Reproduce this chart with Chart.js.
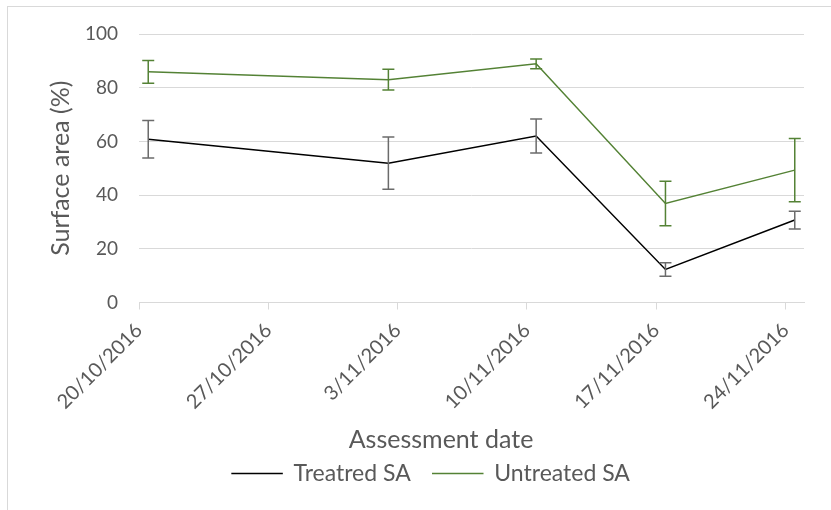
<!DOCTYPE html>
<html>
<head>
<meta charset="utf-8">
<title>Surface area</title>
<script src="https://cdn.jsdelivr.net/npm/chart.js@4.4.1/dist/chart.umd.min.js"></script>
<style>
    html, body { margin: 0; padding: 0; background: #fff; overflow: hidden; }
    #frame { position: absolute; left: 7px; top: 6px; width: 900px; height: 600px; border: 1px solid #d9d9d9; }
    #surfaceChart { position: absolute; left: 0; top: 0; }
</style>
</head>
<body>
<div id="frame"></div>
<canvas id="surfaceChart" width="831" height="510"></canvas>
<script>
// Datos
const assessmentDates = ['20/10/2016', '2/11/2016', '10/11/2016', '17/11/2016', '24/11/2016'];
const treatedSA = [60.8, 51.9, 62.0, 12.3, 30.7];
const treatedErr = [7.0, 9.7, 6.3, 2.5, 3.3];
const untreatedSA = [85.9, 83.0, 88.9, 36.9, 49.3];
const untreatedErr = [4.2, 3.9, 1.8, 8.3, 11.8];
const tickLabels = ['20/10/2016', '27/10/2016', '3/11/2016', '10/11/2016', '17/11/2016', '24/11/2016'];

const greyText = '#595959';
const gridGrey = '#d9d9d9';
const fontFamily = 'Lato, "Open Sans", sans-serif';

// días desde la primera fecha del eje
function dayOf(label) {
    const [d, m, y] = label.split('/').map(Number);
    const [d0, m0, y0] = tickLabels[0].split('/').map(Number);
    return (Date.UTC(y, m - 1, d) - Date.UTC(y0, m0 - 1, d0)) / 86400000;
}

// Excel coloca los puntos a mitad del día
function toPoints(values) {
    return values.map((v, i) => ({ x: dayOf(assessmentDates[i]) + 0.5, y: v }));
}

const tickDays = tickLabels.map(dayOf);
const errorSets = [treatedErr, untreatedErr];
const errorColors = ['#6b6b6b', '#548235'];

// Barras de error
const errorBars = {
    id: 'errorBars',
    afterDatasetsDraw(chart) {
        const { ctx, scales: { x, y } } = chart;
        chart.data.datasets.forEach((ds, i) => {
            ctx.save();
            ctx.strokeStyle = errorColors[i];
            ctx.lineWidth = 1.5;
            ds.data.forEach((p, j) => {
                const px = x.getPixelForValue(p.x);
                const top = y.getPixelForValue(p.y + errorSets[i][j]);
                const bot = y.getPixelForValue(p.y - errorSets[i][j]);
                ctx.beginPath();
                ctx.moveTo(px, top); ctx.lineTo(px, bot);
                ctx.moveTo(px - 6, top); ctx.lineTo(px + 6, top);
                ctx.moveTo(px - 6, bot); ctx.lineTo(px + 6, bot);
                ctx.stroke();
            });
            ctx.restore();
        });
    }
};

// Títulos de los ejes
const axisTitles = {
    id: 'axisTitles',
    afterDraw(chart) {
        const { ctx, chartArea } = chart;
        ctx.save();
        ctx.fillStyle = greyText;
        ctx.font = '25px ' + fontFamily;
        ctx.textAlign = 'center';
        ctx.textBaseline = 'middle';
        ctx.fillText('Assessment date', 441, 440);
        ctx.translate(61, (chartArea.top + chartArea.bottom) / 2);
        ctx.rotate(-Math.PI / 2);
        ctx.fillText('Surface area (%)', 0, 0);
        ctx.restore();
    }
};

const ctx = document.getElementById('surfaceChart').getContext('2d');
new Chart(ctx, {
    type: 'line',
    data: {
        datasets: [{
            label: 'Treatred SA',
            data: toPoints(treatedSA),
            borderColor: '#000000',
            backgroundColor: '#000000',
            borderWidth: 1.5,
            pointRadius: 0,
            tension: 0
        }, {
            label: 'Untreated SA',
            data: toPoints(untreatedSA),
            borderColor: '#548235',
            backgroundColor: '#548235',
            borderWidth: 1.5,
            pointRadius: 0,
            tension: 0
        }]
    },
    options: {
        responsive: false,
        animation: false,
        layout: { padding: { left: 58, right: 27, top: 34, bottom: 15 } },
        plugins: {
            legend: {
                position: 'bottom',
                labels: {
                    boxWidth: 50,
                    boxHeight: 0.1,
                    padding: 22,
                    color: greyText,
                    font: { family: fontFamily, size: 23 }
                }
            },
            tooltip: { enabled: false }
        },
        scales: {
            x: {
                type: 'linear',
                min: 0,
                max: tickDays[tickDays.length - 1] + 1,
                afterBuildTicks: scale => { scale.ticks = tickDays.map(v => ({ value: v })); },
                afterFit: scale => { scale.height = 137.5; },
                ticks: {
                    minRotation: 45,
                    maxRotation: 45,
                    padding: 9,
                    color: greyText,
                    font: { family: fontFamily, size: 20 },
                    callback: (value, index) => tickLabels[index]
                },
                grid: { drawOnChartArea: false, color: gridGrey, tickLength: 7 },
                border: { color: gridGrey }
            },
            y: {
                min: 0,
                max: 100,
                afterFit: scale => { scale.width = 81; },
                ticks: {
                    stepSize: 20,
                    padding: 21,
                    color: greyText,
                    font: { family: fontFamily, size: 19 }
                },
                grid: { color: gridGrey, drawTicks: false },
                border: { display: false }
            }
        }
    },
    plugins: [errorBars, axisTitles]
});
</script>
</body>
</html>
